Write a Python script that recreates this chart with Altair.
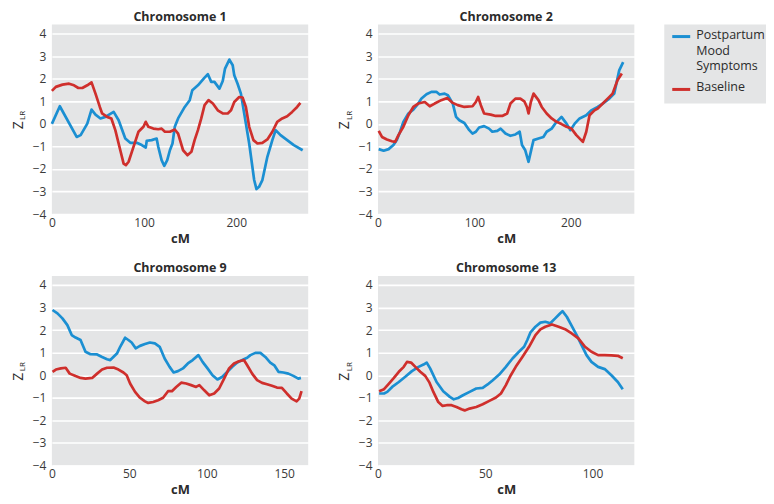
import altair as alt
import pandas as pd

SERIES = ["Postpartum Mood Symptoms", "Baseline"]
COLORS = ["#1b8fd2", "#cf2f2c"]
BG = "#e4e5e6"
FONT = "Open Sans"
TXT = "#2b2b2b"

# (cM, Z_LR) pairs
chr1_postpartum = [(0, 0.0), (8.6, 0.78), (26.9, -0.58), (31.2, -0.5), (38.4, 0.01), (43, 0.63), (47.3, 0.41),
    (52.7, 0.24), (58, 0.31), (67, 0.53), (72.4, 0.16), (79.6, -0.65), (85, -0.84), (92.1, -0.84), (97.5, -0.94),
    (101.8, -1.05), (102.9, -0.75), (108.2, -0.72), (113.6, -0.65), (115.4, -1.02), (119, -1.61), (121.9, -1.86),
    (125.1, -1.61), (128, -1.17), (130.8, -0.87), (133.3, -0.13), (136.9, 0.24), (144.1, 0.75), (149.5, 1.05),
    (152.3, 1.49), (158.4, 1.71), (165.6, 2.05), (169.2, 2.2), (172.8, 1.86), (176.3, 1.86), (181.7, 1.56),
    (185.3, 1.9), (187.8, 2.45), (192.5, 2.85), (196.1, 2.6), (197.8, 2.15), (201.4, 1.78), (205, 1.34),
    (208.6, 0.46), (214, -0.87), (219.4, -2.49), (221.9, -2.89), (224.7, -2.79), (228.3, -2.49), (233.7, -1.46),
    (239.1, -0.72), (242.7, -0.28), (248, -0.5), (255.2, -0.72), (262.4, -0.94), (272, -1.17)]
chr1_baseline = [(0, 1.46), (4.3, 1.64), (11.5, 1.74), (18.6, 1.78), (24, 1.71), (28.7, 1.59), (33, 1.59),
    (38.4, 1.71), (43, 1.84), (47.3, 1.34), (52, 0.75), (54.5, 0.46), (59.9, 0.31), (64.5, 0.24), (68.8, -0.28),
    (74.2, -1.17), (77.8, -1.76), (80.3, -1.83), (83.2, -1.68), (88.5, -1.02), (93.9, -0.35), (99.3, -0.13),
    (101.8, 0.09), (104.7, -0.13), (110, -0.21), (115.4, -0.24), (119, -0.21), (122.6, -0.35), (128, -0.35),
    (133.3, -0.25), (136.9, -0.43), (142.3, -1.17), (147, -1.39), (151.3, -1.24), (154.8, -0.72), (158.4, -0.28),
    (162, 0.24), (165.6, 0.83), (169.9, 1.05), (174.6, 0.9), (179.9, 0.6), (185.3, 0.46), (190.7, 0.46),
    (194.3, 0.6), (197.8, 0.97), (203.2, 1.19), (206.8, 1.17), (210.4, 0.75), (214, -0.13), (218.6, -0.72),
    (222.9, -0.87), (228.3, -0.84), (233.7, -0.69), (239.1, -0.35), (244.4, 0.09), (249.8, 0.24), (255.2, 0.34),
    (260.6, 0.53), (266, 0.75), (269.5, 0.93)]

chr2_postpartum = [(0.7, -1.12), (5.8, -1.19), (11, -1.12), (16, -0.94), (19.5, -0.72), (22.9, -0.35), (26.3, 0.09),
    (31.5, 0.46), (36.6, 0.63), (41.7, 0.9), (45.1, 1.12), (50.3, 1.31), (55.4, 1.42), (60.5, 1.42), (63.9, 1.3),
    (69.1, 1.34), (72.5, 1.27), (77.6, 0.9), (81, 0.31), (84.4, 0.16), (89.6, 0.04), (94.7, -0.28), (98.1, -0.43),
    (101.5, -0.35), (104.9, -0.16), (110.1, -0.1), (115.2, -0.21), (118.6, -0.35), (123.8, -0.31), (127.2, -0.21),
    (132.3, -0.43), (137.4, -0.53), (142.6, -0.47), (147, -0.35), (149.4, -0.94), (152.8, -1.17), (156.2, -1.68),
    (159.7, -1.02), (161.4, -0.72), (166.5, -0.65), (171.6, -0.58), (175, -0.35), (180.2, -0.21), (185.3, 0.09),
    (190.4, 0.31), (195.6, 0.01), (199.7, -0.28), (204.1, 0.01), (209.2, 0.24), (216.1, 0.38), (221.2, 0.6),
    (228, 0.75), (233.2, 0.9), (240, 1.12), (245.1, 1.34), (250.3, 2.37), (254.4, 2.74)]
chr2_baseline = [(0.7, -0.31), (4.1, -0.58), (9.2, -0.69), (14.4, -0.77), (17.8, -0.8), (21.2, -0.5), (26.3, -0.13),
    (31.5, 0.38), (36.6, 0.75), (41.7, 0.9), (48.5, 0.97), (53.7, 0.78), (58.8, 0.9), (65.6, 1.05), (71.8, 1.15),
    (77.6, 0.93), (82.7, 0.83), (89.6, 0.75), (98.1, 0.78), (101.5, 0.97), (103.9, 1.19), (106.7, 0.83),
    (110.1, 0.46), (116.9, 0.41), (122.1, 0.35), (128.9, 0.35), (134, 0.46), (137.4, 0.9), (142.6, 1.12),
    (147.7, 1.12), (151.8, 1.0), (154.5, 0.75), (156.2, 0.46), (158.6, 0.97), (161.4, 1.34), (166.5, 1.05),
    (169.9, 0.75), (175, 0.46), (180.2, 0.24), (185.3, 0.09), (190.4, -0.01), (195.6, -0.13), (200.7, -0.21),
    (205.8, -0.5), (212.6, -0.8), (216.1, -0.35), (219.5, 0.38), (224.6, 0.6), (228, 0.68), (233.2, 0.9),
    (238.3, 1.12), (243.4, 1.34), (248.5, 1.93), (253, 2.23)]

chr9_postpartum = [(0.4, 2.89), (3.6, 2.74), (6.8, 2.52), (10, 2.22), (12.8, 1.78), (15.3, 1.67), (18.5, 1.56),
    (21.7, 1.04), (24.9, 0.93), (29.2, 0.92), (32.4, 0.81), (35.6, 0.71), (37.7, 0.67), (42, 0.96), (44.1, 1.26),
    (47.3, 1.66), (49.4, 1.56), (51.5, 1.45), (54.1, 1.19), (56.9, 1.3), (60.1, 1.38), (63.3, 1.45), (66.5, 1.41),
    (69.6, 1.26), (72.8, 0.74), (76, 0.37), (78.6, 0.12), (81.4, 0.18), (84.6, 0.3), (87.8, 0.52), (90.9, 0.67),
    (94.6, 0.89), (97.3, 0.59), (100.5, 0.3), (103.7, 0.0), (106.9, -0.19), (110.1, -0.07), (113.3, 0.15),
    (116.5, 0.37), (119.7, 0.56), (122.9, 0.67), (126.1, 0.77), (128.2, 0.89), (131.4, 0.99), (134.6, 0.99),
    (137.8, 0.81), (141, 0.56), (143.6, 0.44), (146.3, 0.15), (149.5, 0.12), (152.7, 0.07), (155.9, -0.03),
    (159.1, -0.15), (160.8, -0.12)]
chr9_baseline = [(0.4, 0.15), (2.6, 0.25), (5.8, 0.3), (8.9, 0.33), (11.5, 0.07), (15.3, -0.04), (18.5, -0.12),
    (21.7, -0.15), (26, -0.12), (29.2, 0.07), (32.4, 0.25), (35.6, 0.33), (39.8, 0.34), (43, 0.25), (46.2, 0.12),
    (48.3, 0.0), (50.5, -0.37), (53.7, -0.74), (56.9, -1.0), (60.1, -1.16), (62.2, -1.23), (65.4, -1.19),
    (68.6, -1.11), (71.8, -1.0), (75, -0.71), (77.5, -0.71), (80.3, -0.52), (83.5, -0.33), (86.7, -0.37),
    (89.9, -0.44), (93.1, -0.52), (95.2, -0.44), (98.4, -0.67), (101.6, -0.89), (104.8, -0.81), (108, -0.59),
    (111.2, -0.15), (114.4, 0.3), (117.6, 0.52), (120.8, 0.62), (124, 0.67), (126.1, 0.44), (129.3, 0.07),
    (132.5, -0.22), (135.7, -0.34), (138.9, -0.4), (142.1, -0.47), (145.3, -0.55), (148.5, -0.56), (151.7, -0.81),
    (154.8, -1.04), (158, -1.16), (159.7, -1.04), (161.2, -0.71)]

chr13_postpartum = [(0.5, -0.81), (2.8, -0.81), (4.3, -0.74), (6.6, -0.52), (9.7, -0.3), (12.7, -0.07), (15.8, 0.18),
    (18.9, 0.37), (21.2, 0.47), (22.7, 0.56), (24.3, 0.3), (27.3, -0.3), (30.4, -0.71), (33.5, -0.96), (35.3, -1.07),
    (37.3, -1.01), (39.6, -0.89), (42.7, -0.74), (45.8, -0.59), (48.8, -0.56), (51.1, -0.41), (53.5, -0.22),
    (56.5, 0.03), (59.6, 0.37), (62.7, 0.74), (65.7, 1.04), (68.1, 1.26), (69.6, 1.56), (71.1, 1.9), (73.4, 2.15),
    (75.7, 2.33), (78, 2.37), (80.3, 2.3), (82.6, 2.52), (84.5, 2.7), (86, 2.84), (88, 2.59), (90.3, 2.19),
    (92.6, 1.78), (94.9, 1.33), (97.2, 0.89), (99.5, 0.59), (102.6, 0.37), (105.7, 0.27), (108.8, 0.0),
    (111.8, -0.3), (114.1, -0.62)]
chr13_baseline = [(0.5, -0.71), (2.8, -0.62), (5.1, -0.37), (7.4, -0.12), (9.7, 0.15), (12, 0.37), (13.5, 0.59),
    (15.4, 0.56), (17.4, 0.37), (19.7, 0.15), (22, -0.03), (24, -0.33), (25.8, -0.74), (28.1, -1.19), (30.1, -1.36),
    (32, -1.33), (34.3, -1.33), (36.6, -1.41), (38.9, -1.51), (40.4, -1.56), (42.7, -1.48), (45.8, -1.41),
    (48.8, -1.29), (51.9, -1.14), (55, -0.99), (57.3, -0.81), (59.6, -0.44), (61.9, 0.0), (64.2, 0.37),
    (67.3, 0.81), (70.4, 1.26), (73.4, 1.78), (75.7, 2.03), (78, 2.15), (81.1, 2.25), (84.2, 2.15), (87.2, 2.04),
    (90.3, 1.85), (93.4, 1.63), (96.5, 1.26), (99.5, 1.04), (102.6, 0.89), (105.7, 0.89), (108.8, 0.88),
    (111.8, 0.86), (114.1, 0.75)]

titles = ["Chromosome 1", "Chromosome 2", "Chromosome 9", "Chromosome 13"]
x_max = [278, 266, 165.5, 119.5]
x_ticks = [[0, 100, 200], [0, 100, 200], [0, 50, 100, 150], [0, 50, 100]]
y_ticks = [-4, -3, -2, -1, 0, 1, 2, 3, 4]

W, H = 257, 190
LEG_W, LEG_H = 102, 79
LEG_ROW_Y = [12, 65]


def frame(pp, bl):
    a = pd.DataFrame(pp, columns=["cM", "Z"]).assign(series=SERIES[0])
    b = pd.DataFrame(bl, columns=["cM", "Z"]).assign(series=SERIES[1])
    return pd.concat([a, b], ignore_index=True)


def panel(df, title, xmax, xt):
    lines = alt.Chart(df).mark_line(strokeWidth=2.7, strokeJoin="round").encode(
        x=alt.X("cM:Q", scale=alt.Scale(domain=[0, xmax], nice=False),
                axis=alt.Axis(values=xt, title="cM", grid=False, ticks=False, tickSize=0, domain=False,
                              labelFlush=False, labelPadding=3, titlePadding=4)),
        y=alt.Y("Z:Q", scale=alt.Scale(domain=[-4, 4.4], nice=False),
                axis=alt.Axis(values=y_ticks, title=None, grid=True, gridColor="white", gridWidth=1.6,
                              ticks=False, tickSize=0, domain=False, labelFlush=False, labelPadding=6)),
        color=alt.Color("series:N", scale=alt.Scale(domain=SERIES, range=COLORS), legend=None),
    )
    one = pd.DataFrame({"k": [0]})
    z = alt.Chart(one).mark_text(angle=270, font=FONT, fontSize=14, color=TXT, align="center",
                                 baseline="middle").encode(text=alt.value("Z"), x=alt.value(-33), y=alt.value(101))
    lr = alt.Chart(one).mark_text(angle=270, font=FONT, fontSize=8, color=TXT, align="center",
                                  baseline="middle").encode(text=alt.value("LR"), x=alt.value(-28.5), y=alt.value(91))
    return alt.layer(lines, z, lr).properties(
        width=W, height=H, title=alt.TitleParams(title, anchor="middle", offset=1))


panels = []
for (pp, bl), t, xm, xt in zip(
        [(chr1_postpartum, chr1_baseline), (chr2_postpartum, chr2_baseline),
         (chr9_postpartum, chr9_baseline), (chr13_postpartum, chr13_baseline)],
        titles, x_max, x_ticks):
    panels.append(panel(frame(pp, bl), t, xm, xt))

# legend box drawn as its own small view
leg_layers = []
for s, c, yy in zip(SERIES, COLORS, LEG_ROW_Y):
    d = pd.DataFrame({"series": [s]})
    leg_layers.append(alt.Chart(d).mark_rule(strokeWidth=3, color=c).encode(
        x=alt.value(8), x2=alt.value(26), y=alt.value(yy)))
    leg_layers.append(alt.Chart(d).mark_text(align="left", baseline="top", lineBreak=" ", lineHeight=16,
                                             font=FONT, fontSize=12.5, color=TXT).encode(
        text="series:N", x=alt.value(32), y=alt.value(yy - 8)))
legend_box = alt.layer(*leg_layers).properties(width=LEG_W, height=LEG_H)

row1 = alt.hconcat(panels[0], panels[1], legend_box, spacing=30)
row2 = alt.hconcat(panels[2], panels[3], spacing=30)

chart = alt.vconcat(row1, row2, spacing=17).properties(
    padding={"left": 4, "top": 2, "right": 0, "bottom": 0}
).configure_view(
    fill=BG, strokeWidth=0
).configure_axis(
    labelFont=FONT, labelFontSize=12, labelColor="#3a3a3a",
    titleFont=FONT, titleFontSize=13, titleFontWeight="bold", titleColor=TXT
).configure_title(
    font=FONT, fontSize=12.5, fontWeight="bold", color=TXT
)

chart.save("out.html", embed_options={"renderer": "svg", "actions": False})
